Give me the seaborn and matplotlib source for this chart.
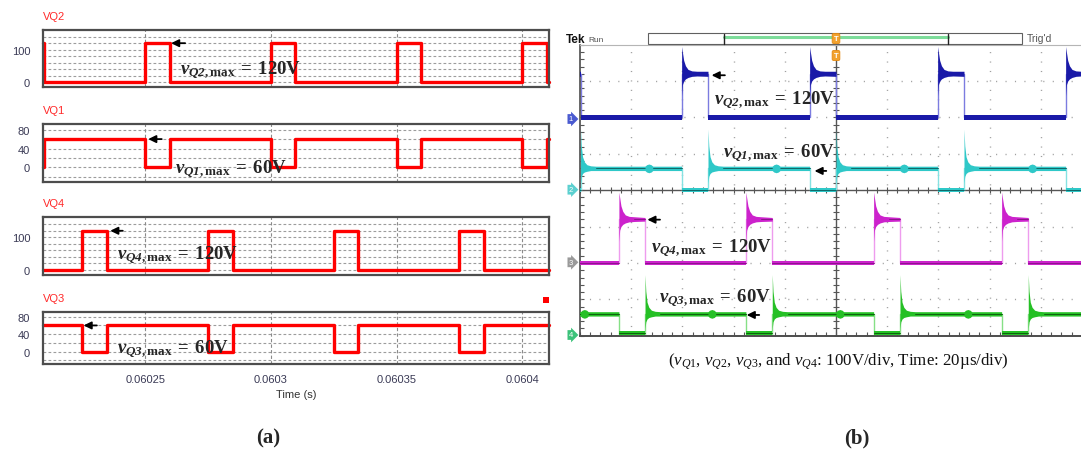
import numpy as np
import matplotlib
matplotlib.use("Agg")
import matplotlib.pyplot as plt
from matplotlib.patches import Rectangle
from matplotlib.lines import Line2D
import seaborn as sns

sns.set_style("white")
plt.rcParams["font.family"] = ["Liberation Sans", "DejaVu Sans"]
plt.rcParams["mathtext.fontset"] = "custom"
plt.rcParams["mathtext.rm"] = "Liberation Serif"
plt.rcParams["mathtext.it"] = "Liberation Serif:italic"
plt.rcParams["mathtext.bf"] = "Liberation Serif:bold"
if "mathtext.bfit" in plt.rcParams:
    plt.rcParams["mathtext.bfit"] = "Liberation Serif:italic:bold"

# ---------------- (a) simulated switch voltages, time in seconds ----------------
sim_window = [0.0602095, 0.0604106]
q2_on = [0.06020, 0.06025, 0.06030, 0.06035, 0.06040]
q2_off = [0.0602097, 0.0602597, 0.0603097, 0.0603597, 0.0604097]
q4_on = [0.060225, 0.060275, 0.060325, 0.060375]
q4_off = [0.0602348, 0.0602848, 0.0603348, 0.0603848]
v_q2_max = 120
v_q1_max = 60
v_q4_max = 120
v_q3_max = 60
time_ticks = [0.06025, 0.0603, 0.06035, 0.0604]
time_labels = ["0.06025", "0.0603", "0.06035", "0.0604"]

# ---------------- (b) measured waveforms, time in us (20 us/div), 100 V/div ----------------
scope_q2_on = [-10.3, 39.7, 89.7, 139.7, 189.7, 239.7]
scope_q2_off = [0.2, 50.0, 100.0, 150.0, 200.0, 250.0]
scope_q4_on = [-34.8, 15.2, 64.8, 114.7, 164.7, 214.7]
scope_q4_off = [-24.6, 25.4, 75.1, 125.0, 175.1, 225.0]
# ringing envelope after each turn-off edge (offset in us, volts)
ring_dt = [0.0, 0.3, 0.8, 1.5, 2.5, 4.0, 6.0]
ring_120_top = [195, 180, 157, 142, 132, 128, 127]
ring_120_bot = [60, 90, 100, 106, 110, 113, 114]
ring_60_top = [168, 122, 92, 78, 70, 67, 66]
ring_60_bot = [20, 38, 46, 50, 52, 54, 54]
# small disturbance when the other leg switches (offset in us, volts)
blip_dt = [0.0, 0.6, 1.5, 2.4, 3.0]
blip_dv = [0, 4, 6, 4, 0]
volts_per_div = 100

W, H = 1081, 456
fig = plt.figure(figsize=(W / 100, H / 100), dpi=100)


def px_axes(x0, y0, x1, y1):
    return fig.add_axes([x0 / W, 1 - y1 / H, (x1 - x0) / W, (y1 - y0) / H])


def ftext(x, y, s, **kw):
    return fig.text(x / W, 1 - y / H, s, **kw)


def square_wave(on_times, off_times, on_val, off_val, t0, t1):
    events = sorted([(t, on_val) for t in on_times] + [(t, off_val) for t in off_times])
    level = off_val
    for t, v in events:
        if t <= t0:
            level = v
    ts, vs = [t0], [level]
    for t, v in events:
        if t0 < t < t1:
            ts += [t, t]
            vs += [level, v]
            level = v
    ts.append(t1)
    vs.append(level)
    return ts, vs


# ---------------- panel (a) ----------------
panels = [
    ("VQ2", square_wave(q2_on, q2_off, v_q2_max, 0, *sim_window), (31, 88), (-14.4, 160.4), [0, 100], range(0, 160, 20)),
    ("VQ1", square_wave(q2_on, q2_off, 0, v_q1_max, *sim_window), (125, 182.7), (-30.6, 92.1), [0, 40, 80], range(-20, 100, 20)),
    ("VQ4", square_wave(q4_on, q4_off, v_q4_max, 0, *sim_window), (218.3, 276), (-15.3, 161.2), [0, 100], range(0, 160, 20)),
    ("VQ3", square_wave(q4_on, q4_off, 0, v_q3_max, *sim_window), (312.7, 365), (-28.1, 91.4), [0, 40, 80], range(-20, 100, 20)),
]
sim_axes = []
for i, (name, (ts, vs), (ytop, ybot), ylim, yticks, grid) in enumerate(panels):
    ax = px_axes(43.3, ytop, 549, ybot)
    sim_axes.append(ax)
    ax.set_xlim(*sim_window)
    ax.set_ylim(*ylim)
    for g in grid:
        ax.axhline(g, color="#9c9c9c", lw=0.8, ls=(0, (2.5, 2)), zorder=1)
    for t in time_ticks:
        ax.axvline(t, color="#8a8a8a", lw=0.8, ls=(0, (3, 2)), zorder=1)
    sns.lineplot(x=ts, y=vs, ax=ax, color="#ff0000", lw=2.4, estimator=None,
                 sort=False, legend=False, zorder=3, clip_on=False)
    ax.set_yticks(yticks)
    ax.set_yticklabels([str(v) for v in yticks])
    ax.set_xticks(time_ticks)
    ax.tick_params(length=0, labelsize=8, labelcolor="#3a3a55", pad=9.5)
    if i < 3:
        ax.set_xticklabels([])
    else:
        ax.set_xticklabels(time_labels)
        ax.tick_params(axis="x", pad=7)
    for sp in ax.spines.values():
        sp.set_color("#4d4d4d")
        sp.set_linewidth(1.6)
        sp.set_zorder(4)
    ftext(43, ytop - 14, name, color="#ff2a2a", fontsize=8, va="center", ha="left")

ftext(296.5, 395, "Time (s)", fontsize=8, color="#333333", ha="center", va="center")
fig.add_artist(Rectangle((543 / W, 1 - 304 / H), 6 / W, 6 / H, transform=fig.transFigure,
                         fc="#ff0000", ec="none"))

arrow_kw = dict(arrowstyle="-|>,head_length=0.45,head_width=0.22", color="black", lw=1.3,
                shrinkA=0, shrinkB=0)
sim_arrows = [(0, 0.0602603, 0.0602659, v_q2_max), (1, 0.0602512, 0.0602566, v_q1_max),
              (2, 0.0602361, 0.0602411, v_q4_max), (3, 0.0602255, 0.0602308, v_q3_max)]
for k, tip, tail, lvl in sim_arrows:
    sim_axes[k].annotate("", xy=(tip, lvl), xytext=(tail, lvl), arrowprops=arrow_kw,
                         annotation_clip=False, zorder=6)


def vmax_label(q, val):
    return (r"$\mathbfit{v}_{\mathbfit{Q" + q + r"}\mathbf{,max}}\;\mathbf{=}\;\mathbf{" + val + r"V}$")


ann_size = 13.5
ftext(180, 70, vmax_label("2", "120"), fontsize=ann_size, va="center", zorder=7)
ftext(175, 169, vmax_label("1", "60"), fontsize=ann_size, va="center", zorder=7)
ftext(116.7, 255, vmax_label("4", "120"), fontsize=ann_size, va="center", zorder=7)
ftext(116.7, 349, vmax_label("3", "60"), fontsize=ann_size, va="center", zorder=7)

# ---------------- panel (b): oscilloscope ----------------
sc = px_axes(580, 45.7, 1092, 336.7)
sc.set_xlim(0, 200)
sc.set_ylim(0, 8)
for x in range(20, 200, 20):
    if x != 100:
        sc.axvline(x, color="#a0a0a0", lw=1.0, ls=(0, (0.8, 6)), zorder=1)
for y in range(1, 8):
    if y != 4:
        sc.axhline(y, color="#a0a0a0", lw=1.0, ls=(0, (0.8, 6)), zorder=1)
sc.axvline(100, color="#555555", lw=1.0, zorder=1)
sc.axhline(4, color="#555555", lw=1.0, zorder=1)
minor_t = np.arange(0, 201, 4)
minor_v = np.arange(0, 8.01, 0.2)
sc.plot(minor_t, np.full(minor_t.shape, 4.0), ls="none", marker="|", ms=4, mew=0.8,
        color="#555555", zorder=1)
sc.plot(np.full(minor_v.shape, 100.0), minor_v, ls="none", marker="_", ms=4, mew=0.8,
        color="#555555", zorder=1)
sc.set_xticks(minor_t)
sc.set_yticks(minor_v)
sc.tick_params(direction="in", length=3, width=0.8, color="#555555", left=True, bottom=True,
               labelleft=False, labelbottom=False)
sc.spines["left"].set_color("#4d4d4d")
sc.spines["bottom"].set_color("#4d4d4d")
sc.spines["left"].set_linewidth(1.2)
sc.spines["bottom"].set_linewidth(1.4)
sc.spines["top"].set_color("#b5b5b5")
sc.spines["top"].set_linewidth(0.8)
sc.spines["right"].set_visible(False)

channels = [
    dict(ground=6, on=scope_q2_on, off=scope_q2_off, hv=v_q2_max, inverted=False,
         top=ring_120_top, bot=ring_120_bot, band=(113, 127), low=(-8, 8),
         fill="#1a1aa8", dark=None, edge="#7c7ce0", blips=[]),
    dict(ground=4, on=scope_q2_on, off=scope_q2_off, hv=v_q1_max, inverted=True,
         top=ring_60_top, bot=ring_60_bot, band=(54, 66), low=(-4, 5),
         fill="#2fc8c8", dark="#126666", edge="#86e2e2", blips=scope_q4_off),
    dict(ground=2, on=scope_q4_on, off=scope_q4_off, hv=v_q4_max, inverted=False,
         top=ring_120_top, bot=ring_120_bot, band=(115, 125), low=(-5, 5),
         fill="#cc22cc", dark="#8a168a", edge="#ee9cee", blips=[]),
    dict(ground=0, on=scope_q4_on, off=scope_q4_off, hv=v_q3_max, inverted=True,
         top=ring_60_top, bot=ring_60_bot, band=(54, 66), low=(2, 12),
         fill="#25c025", dark="#0f5f0f", edge="#86e086", blips=scope_q2_off),
]

for ch in channels:
    g = ch["ground"]
    dv = lambda v: g + np.asarray(v, dtype=float) / volts_per_div
    if ch["inverted"]:
        ts, vs = square_wave(ch["on"], ch["off"], 0, ch["hv"], -2, 205)
        highs = list(zip(ch["off"][:-1], ch["on"][1:]))
        lows = list(zip(ch["on"], ch["off"]))
    else:
        ts, vs = square_wave(ch["on"], ch["off"], ch["hv"], 0, -2, 205)
        highs = list(zip(ch["on"], ch["off"]))
        lows = list(zip(ch["off"][:-1], ch["on"][1:]))
    # switching edges
    sns.lineplot(x=ts, y=dv(vs), ax=sc, color=ch["edge"], lw=1.0, estimator=None,
                 sort=False, legend=False, zorder=2)
    # noisy low level
    for a, b in lows:
        sc.fill_between([a, b], dv([ch["low"][0]] * 2), dv([ch["low"][1]] * 2),
                        color=ch["fill"], lw=0, zorder=3)
        if ch["dark"]:
            sc.plot([a, b], dv([sum(ch["low"]) / 2] * 2), color=ch["dark"], lw=0.7, zorder=3)
    # on-state level with turn-off ringing
    for a, b in highs:
        xs = [a + d for d in ring_dt] + [b]
        hi = dv(list(ch["top"]) + [ch["band"][1]])
        lo = dv(list(ch["bot"]) + [ch["band"][0]])
        sc.fill_between(xs, lo, hi, color=ch["fill"], lw=0, zorder=3)
        if ch["dark"]:
            mid = (ch["band"][0] + ch["band"][1]) / 2
            sc.plot([a + ring_dt[-1], b], dv([mid, mid]), color=ch["dark"], lw=0.7, zorder=3)
    for tb in ch["blips"]:
        xs = [tb + d for d in blip_dt]
        hi = dv([ch["band"][1] + d for d in blip_dv])
        lo = dv([ch["band"][0] - d for d in blip_dv])
        sc.fill_between(xs, lo, hi, color=ch["fill"], lw=0, zorder=3)

scope_arrows = [(51.4, 56.6, 7.16), (91.6, 96.2, 4.53), (26.3, 31.25, 3.19), (65.1, 70.0, 0.57)]
for tip, tail, y in scope_arrows:
    sc.annotate("", xy=(tip, y), xytext=(tail, y), arrowprops=arrow_kw, zorder=6)

ftext(714, 100, vmax_label("2", "120"), fontsize=ann_size, va="center", zorder=7)
ftext(722.7, 153, vmax_label("1", "60"), fontsize=ann_size, va="center", zorder=7)
ftext(650.7, 248, vmax_label("4", "120"), fontsize=ann_size, va="center", zorder=7)
ftext(659.3, 298, vmax_label("3", "60"), fontsize=ann_size, va="center", zorder=7)

# channel tags
for y, lab, fc in [(120, "1", "#4a5ad0"), (190.7, "2", "#5cd0d0"), (263.3, "3", "#9a9a9a"),
                   (336, "4", "#3cc27a")]:
    ftext(571, y, lab, fontsize=5.5, color="white", ha="center", va="center",
          bbox=dict(boxstyle="rarrow,pad=0.18", fc=fc, ec="none"))

# status bar
fig.add_artist(Rectangle((648.3 / W, 1 - 45 / H), (1021.7 - 648.3) / W, 10.7 / H,
                         transform=fig.transFigure, fc="white", ec="#606060", lw=0.8))
fig.add_artist(Line2D([724 / W, 948.3 / W], [1 - 38 / H] * 2, transform=fig.transFigure,
                      color="#7ddc9a", lw=2.2))
for xb in (724, 948.3):
    fig.add_artist(Line2D([xb / W] * 2, [1 - 34.5 / H, 1 - 44.8 / H], transform=fig.transFigure,
                          color="#222222", lw=1.0))
for yb in (39.5, 56.5):
    ftext(836, yb, "T", fontsize=5.5, color="white", fontweight="bold", ha="center",
          va="center", bbox=dict(boxstyle="round,pad=0.2", fc="#f2a22e", ec="#e48a12", lw=0.6))
ftext(566, 40, "Tek", fontsize=8.5, fontweight="bold", va="center", color="#111111")
ftext(588.5, 40, "Run", fontsize=6, va="center", color="#555555")
ftext(1026.7, 39.5, "Trig'd", fontsize=7.5, va="center", color="#555555")

ftext(838, 361.7, r"($v_{Q1}$, $v_{Q2}$, $v_{Q3}$, and $v_{Q4}$: 100V/div, Time: 20µs/div)",
      fontsize=12.2, family="Liberation Serif", ha="center", va="center", color="#111111")

ftext(268, 438, "(a)", fontsize=15, fontweight="bold", family="Liberation Serif",
      ha="center", va="center")
ftext(857, 438, "(b)", fontsize=15, fontweight="bold", family="Liberation Serif",
      ha="center", va="center")

fig.savefig("out.png", dpi=100)
